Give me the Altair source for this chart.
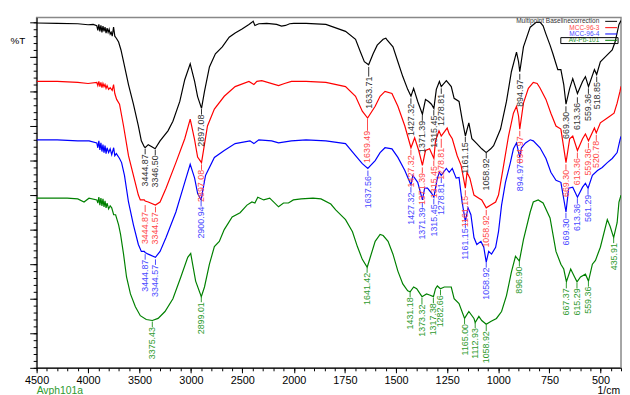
import altair as alt
import pandas as pd

FONT = "Liberation Sans"

# ---- spectra: [wavenumber (1/cm), %T] ----
BLACK = [[4500,99.8],[4300,99.7],[4100,99.6],[4000,99.3],[3950,99.4],[3915,99.0],[3905,97.7],[3895,99.4],[3885,97.4],[3875,99.1],
         [3865,97.1],[3855,98.9],[3845,97.4],[3835,98.6],[3825,96.9],[3815,98.3],[3805,97.1],[3795,98.0],[3785,96.6],[3775,97.1],
         [3765,96.0],[3752,98.6],[3740,96.0],[3725,95.4],[3703,94.3],[3680,92.0],[3655,88.6],[3607,82.0],[3559,76.3],[3511,70.0],
         [3482,65.7],[3454,64.0],[3445,63.7],[3415,64.6],[3380,64.0],[3348,63.4],[3300,65.7],[3223,68.6],[3175,71.4],[3108,77.1],
         [3060,83.4],[3007,88.0],[2964,82.9],[2935,78.5],[2897,75.1],[2868,80.0],[2820,87.1],[2762,90.9],[2695,92.9],[2628,95.7],
         [2570,96.9],[2503,98.1],[2436,99.4],[2407,100.0],[2395,100.3],[2378,99.1],[2340,99.6],[2263,99.7],[2167,99.4],[2119,98.9],
         [2080,99.1],[2040,99.6],[2000,99.7],[1940,99.7],[1843,99.4],[1747,97.4],[1698,95.1],[1674,91.4],[1655,88.6],[1634,87.7],
         [1612,90.9],[1592,93.4],[1563,95.1],[1550,95.4],[1544,94.9],[1515,92.9],[1491,88.6],[1467,84.3],[1443,80.6],[1427,78.6],
         [1414,80.9],[1394,77.1],[1371,73.4],[1356,77.7],[1341,77.1],[1327,76.3],[1315,75.1],[1303,80.6],[1288,82.9],[1279,81.4],
         [1254,83.1],[1230,81.4],[1216,78.0],[1192,77.1],[1177,72.0],[1161,67.1],[1144,70.9],[1129,66.3],[1105,64.9],[1081,63.4],
         [1059,62.3],[1037,63.4],[1023,64.3],[989,69.1],[960,77.1],[936,85.7],[911,91.4],[901,88.6],[895,85.7],[877,92.9],
         [844,98.6],[815,100.0],[795,100.0],[781,99.0],[767,96.6],[747,93.4],[733,90.9],[718,88.0],[709,86.3],[694,86.3],
         [680,82.0],[669,76.3],[651,80.9],[636,83.7],[613,79.4],[588,82.9],[574,84.3],[559,81.4],[530,86.3],[519,84.9],
         [501,88.6],[477,90.0],[443,92.0],[429,94.3],[410,99.4],[400,100.5]]

RED = [[4500,82.9],[4300,82.9],[4100,82.6],[4000,82.3],[3915,82.6],[3905,81.7],[3895,82.9],[3885,81.4],[3875,82.6],[3865,81.1],
       [3855,82.3],[3845,81.4],[3835,82.0],[3825,80.9],[3815,81.7],[3800,80.6],[3785,81.1],[3765,80.3],[3752,82.0],[3740,79.4],
       [3722,77.7],[3694,76.3],[3655,70.0],[3607,61.4],[3559,55.7],[3511,50.0],[3492,48.6],[3454,48.6],[3445,48.3],[3415,48.0],
       [3345,47.1],[3300,48.0],[3242,52.0],[3146,59.4],[3060,66.3],[3007,72.0],[2964,66.0],[2935,61.0],[2897,59.4],[2839,70.0],
       [2772,74.9],[2676,78.6],[2570,81.4],[2436,82.9],[2388,82.0],[2359,82.9],[2311,83.1],[2148,81.7],[2090,82.3],[2023,82.9],
       [1940,82.9],[1843,82.6],[1747,81.4],[1698,78.6],[1665,74.3],[1639,72.3],[1602,75.7],[1578,78.6],[1554,80.0],[1520,79.4],
       [1491,75.7],[1457,70.0],[1427,63.7],[1409,66.6],[1389,62.9],[1371,58.6],[1356,62.9],[1336,63.4],[1315,60.6],[1307,65.7],
       [1290,68.6],[1279,67.1],[1250,69.4],[1240,67.7],[1225,66.3],[1201,61.4],[1182,58.6],[1161,52.0],[1153,56.6],[1139,54.9],
       [1119,50.0],[1095,49.1],[1081,48.6],[1059,46.3],[1037,47.1],[1013,48.0],[999,50.0],[974,58.6],[950,67.1],[926,73.7],
       [911,75.7],[901,72.9],[895,69.1],[877,76.6],[853,80.9],[829,82.6],[810,82.3],[796,81.0],[767,77.7],[743,73.7],
       [718,70.0],[694,69.1],[669,59.4],[651,66.3],[636,67.1],[613,62.9],[588,66.3],[574,67.7],[559,65.7],[530,69.4],
       [521,68.0],[501,70.9],[467,72.3],[434,73.7],[419,76.6],[405,80.0],[400,81.5]]

BLUE = [[4500,66.0],[4300,66.0],[4100,65.7],[3990,65.7],[3915,65.1],[3905,63.7],[3895,65.7],[3885,63.1],[3875,65.1],[3865,62.6],
        [3855,64.6],[3845,62.3],[3835,64.3],[3825,62.0],[3815,63.7],[3800,62.3],[3785,63.4],[3770,61.7],[3751,63.7],[3740,61.4],
        [3725,62.0],[3694,60.6],[3674,59.4],[3646,55.7],[3607,48.0],[3559,41.4],[3511,35.7],[3482,33.7],[3454,33.7],[3445,33.4],
        [3415,32.9],[3345,32.0],[3300,33.7],[3242,37.7],[3146,45.1],[3060,53.7],[3007,58.9],[2964,54.9],[2935,50.5],[2901,48.6],
        [2858,55.7],[2772,60.9],[2676,62.9],[2570,64.9],[2426,65.7],[2388,64.9],[2340,66.0],[2215,65.7],[2148,65.1],[2023,65.7],
        [1940,66.0],[1843,65.7],[1747,64.9],[1698,61.4],[1665,59.1],[1638,57.7],[1602,60.0],[1578,62.3],[1554,63.7],[1520,63.4],
        [1491,60.9],[1457,57.1],[1427,52.9],[1418,55.7],[1394,53.7],[1371,48.6],[1360,52.0],[1346,52.0],[1327,50.6],[1315,49.4],
        [1298,54.9],[1288,56.6],[1279,55.7],[1254,57.7],[1240,56.6],[1225,57.7],[1206,54.9],[1192,55.1],[1177,48.0],[1161,42.3],
        [1148,46.3],[1134,44.3],[1119,37.7],[1105,35.7],[1085,36.6],[1071,34.9],[1059,30.6],[1047,33.7],[1033,32.9],[1013,34.9],
        [999,39.4],[984,47.1],[965,53.7],[941,59.4],[926,63.4],[911,65.1],[895,60.9],[887,63.7],[867,65.1],[844,66.0],
        [829,65.7],[796,63.7],[767,60.6],[743,56.6],[718,54.3],[694,53.7],[669,45.1],[656,52.0],[636,52.3],[613,49.4],
        [588,52.3],[574,53.4],[561,52.0],[540,55.7],[515,57.1],[492,58.0],[467,59.4],[443,60.6],[419,62.3],[405,66.0],[400,67.0]]

GREEN = [[4500,49.1],[4327,49.1],[4202,49.1],[4100,48.9],[4039,48.0],[3991,49.1],[3915,48.6],[3905,47.7],[3895,49.4],[3885,47.1],
         [3875,49.1],[3865,46.9],[3855,48.9],[3845,46.6],[3835,48.3],[3825,46.3],[3815,47.7],[3800,46.0],[3785,46.9],[3770,46.3],
         [3751,44.3],[3732,44.3],[3703,41.4],[3684,38.6],[3655,32.9],[3626,26.3],[3588,21.4],[3540,17.7],[3492,15.1],[3434,14.0],
         [3375,13.7],[3319,14.3],[3252,16.3],[3175,20.0],[3098,26.3],[3031,32.0],[3002,33.1],[2954,25.1],[2899,20.6],[2868,23.4],
         [2820,30.0],[2772,35.1],[2724,36.6],[2676,40.0],[2599,43.7],[2522,44.9],[2455,47.1],[2407,48.0],[2378,47.7],[2350,49.4],
         [2292,48.6],[2234,49.1],[2148,46.6],[2100,47.7],[2052,47.7],[2004,48.6],[1964,48.9],[1906,49.1],[1867,48.9],[1819,47.4],
         [1795,45.7],[1747,42.9],[1713,39.4],[1689,35.1],[1665,31.4],[1641,29.1],[1626,32.0],[1602,36.6],[1578,38.6],[1563,38.3],
         [1539,36.6],[1515,32.9],[1491,28.0],[1467,24.3],[1443,22.3],[1431,22.0],[1414,23.4],[1399,22.9],[1373,20.6],[1351,21.4],
         [1336,21.1],[1317,20.6],[1307,22.9],[1298,23.7],[1283,22.9],[1264,23.4],[1230,23.4],[1216,20.0],[1192,18.6],[1165,14.3],
         [1144,16.3],[1119,14.3],[1113,13.1],[1095,14.9],[1081,13.7],[1059,12.6],[1037,13.4],[1009,14.3],[984,16.3],[960,20.9],
         [936,27.7],[916,32.3],[897,30.9],[877,37.1],[844,45.1],[829,48.0],[805,48.6],[781,47.7],[747,43.4],[718,33.7],
         [694,30.0],[680,28.6],[667,24.9],[646,28.6],[627,26.3],[615,24.9],[598,26.3],[574,27.1],[559,25.1],[540,30.0],
         [525,31.1],[501,34.9],[467,42.9],[453,40.9],[436,37.7],[419,42.0],[410,48.0],[400,50.0]]

# ---- peak labels: [text, %T where leader starts, %T where text starts] ----
BLACK_PEAKS = [["3444.87",63.4,61.8],["3346.50",63.1,61.5],["2897.08",74.9,73.3],["1633.71",87.1,84.3],
               ["1427.32",78.0,76.4],["1371.39",73.1,71.5],["1315.45",74.6,73.0],["1278.81",80.9,79.3],
               ["1161.15",66.9,65.3],["1058.92",62.6,60.6],["894.97",85.1,83.4],["669.30",75.7,74.1],
               ["613.36",78.3,76.7],["559.36",80.9,79.3],["518.85",84.3,82.7]]
RED_PEAKS = [["3444.87",47.1,45.1],["3344.57",46.6,45.0],["2897.08",58.9,57.3],["1639.49",72.0,68.6],
             ["1427.32",63.1,61.5],["1371.39",58.0,56.4],["1315.45",60.0,58.4],["1278.81",66.3,63.7],
             ["1161.15",51.4,49.8],["1058.92",45.7,44.1],["894.97",68.6,67.0],["669.30",58.9,57.3],
             ["613.36",62.3,60.7],["559.36",65.1,63.5],["520.78",67.4,65.7]]
BLUE_PEAKS = [["3444.87",32.9,31.3],["3344.57",31.4,29.8],["2900.94",48.3,46.7],["1637.56",57.1,55.5],
              ["1427.32",52.3,50.7],["1371.39",48.0,46.4],["1315.45",48.9,47.3],["1278.81",55.1,53.5],
              ["1161.15",42.0,40.4],["1058.92",30.6,29.0],["894.97",60.6,59.0],["669.30",44.9,43.3],
              ["613.36",49.1,47.5],["561.29",51.7,50.1]]
GREEN_PEAKS = [["3375.43",13.4,11.8],["2899.01",20.6,19.0],["1641.42",29.1,27.5],["1431.18",22.0,20.4],
               ["1373.32",20.3,18.3],["1317.38",20.3,18.7],["1282.66",22.6,21.0],["1165.00",14.3,12.7],
               ["1112.93",13.1,11.5],["1058.92",12.6,10.6],["896.90",30.9,29.3],["667.37",24.6,23.0],
               ["615.29",24.6,23.0],["559.36",25.1,23.5],["435.91",37.7,36.1]]

NAMES = ["Multipoint Baselinecorrection", "MCC-96-3", "MCC-96-4", "Av-Pb-101"]
LINE_COLORS = ["#000000", "#ff0000", "#0000ff", "#008000"]
TEXT_COLORS = ["#333333", "#ff4a4a", "#4a4aff", "#2e9a2e"]
SERIES = [BLACK, RED, BLUE, GREEN]
PEAKS = [BLACK_PEAKS, RED_PEAKS, BLUE_PEAKS, GREEN_PEAKS]

X_MAJOR = [4500, 4000, 3500, 3000, 2500, 2000, 1750, 1500, 1250, 1000, 750, 500]
X_MINOR = list(range(4500, 2000, -100)) + list(range(2000, 399, -50))
Y_MAJOR = list(range(0, 101, 10))
Y_MINOR = list(range(0, 101, 2))

W, H = 592, 355
SPLIT = 260.5

curve_rows, peak_rows = [], []
for name, lc, tc, pts, pk in zip(NAMES, LINE_COLORS, TEXT_COLORS, SERIES, PEAKS):
    for wn, t in pts:
        curve_rows.append({"series": name, "lc": lc, "wn": wn, "T": t})
    for lab, top, tt in pk:
        peak_rows.append({"series": name, "tc": tc, "wn": float(lab), "label": lab, "top": top, "tt": tt})
curves = pd.DataFrame(curve_rows)
peaks = pd.DataFrame(peak_rows)

xscale = alt.Scale(domain=[4500, 2000, 400], range=[0, SPLIT, W], nice=False, zero=False)
yscale = alt.Scale(domain=[0, 101.43], nice=False, zero=False)

lines = alt.Chart(curves).mark_line(strokeWidth=1.2, clip=True).encode(
    x=alt.X("wn:Q", scale=xscale,
            axis=alt.Axis(values=X_MAJOR, format="d", orient="bottom", title=None, grid=False,
                          tickSize=5, labelFontSize=11, labelPadding=2, labelColor="#000",
                          labelFont=FONT, domainColor="#000", tickColor="#000", labelFlush=False)),
    y=alt.Y("T:Q", scale=yscale,
            axis=alt.Axis(values=Y_MAJOR, labels=False, orient="left", grid=False, tickSize=7,
                          domainColor="#000", tickColor="#000", title="%T", titleAngle=0,
                          titleX=-27, titleY=23, titleAlign="left", titleBaseline="middle",
                          titleFontSize=10, titleFontWeight="normal", titleFont=FONT, titleColor="#000")),
    color=alt.Color("lc:N", scale=None),
    detail="series:N",
)

leaders = alt.Chart(peaks).mark_rule(strokeWidth=1).encode(
    x=alt.X("wn:Q", scale=xscale,
            axis=alt.Axis(values=X_MINOR, labels=False, orient="bottom", grid=False, tickSize=3,
                          domain=False, tickColor="#000", title=None)),
    y=alt.Y("top:Q", scale=yscale,
            axis=alt.Axis(values=Y_MINOR, labels=False, orient="left", grid=False, tickSize=3.5,
                          domain=False, tickColor="#000", title=None)),
    y2="tt:Q",
    color=alt.Color("tc:N", scale=None),
)

peak_text = alt.Chart(peaks).mark_text(angle=270, align="right", baseline="middle",
                                       fontSize=9, font=FONT).encode(
    x=alt.X("wn:Q", scale=xscale, axis=None),
    y=alt.Y("tt:Q", scale=yscale, axis=None),
    text="label:N",
    color=alt.Color("tc:N", scale=None),
)

legend_df = pd.DataFrame({"name": NAMES, "lc": LINE_COLORS, "tc": TEXT_COLORS,
                          "row": [0, 1, 2, 3]})
leg_layers = []
for i, (nm, lc, tc) in enumerate(zip(NAMES, LINE_COLORS, TEXT_COLORS)):
    sub = legend_df[legend_df["row"] == i]
    yy = 4 + i * 6.4
    leg_layers.append(alt.Chart(sub).mark_text(align="right", baseline="middle", fontSize=6.6,
                                               font=FONT, color=tc).encode(
        x=alt.value(W - 22), y=alt.value(yy), text="name:N"))
    leg_layers.append(alt.Chart(sub).mark_rule(strokeWidth=1, color=lc).encode(
        x=alt.value(W - 16), x2=alt.value(W - 4), y=alt.value(yy)))
box = alt.Chart(legend_df[legend_df["row"] == 3]).mark_rect(fill=None, stroke="#000",
                                                           strokeWidth=1).encode(
    x=alt.value(W - 61), x2=alt.value(W - 3), y=alt.value(20.5), y2=alt.value(26.5))

foot = pd.DataFrame({"left": ["Avph101a"], "right": ["1/cm"]})
foot_left = alt.Chart(foot).mark_text(align="left", baseline="middle", fontSize=10.5,
                                      font=FONT, color="#2e9a2e").encode(
    x=alt.value(0), y=alt.value(H + 23.5), text="left:N")
foot_right = alt.Chart(foot).mark_text(align="right", baseline="middle", fontSize=10.5,
                                       font=FONT, color="#000").encode(
    x=alt.value(W - 1), y=alt.value(H + 23.5), text="right:N")

chart = alt.layer(lines, leaders, peak_text, *leg_layers, box, foot_left, foot_right).resolve_axis(
    x="independent", y="independent"
).properties(
    width=W, height=H,
    autosize=alt.AutoSizeParams(type="none"),
    padding={"left": 29, "top": 7, "right": 1, "bottom": 25},
    background="#ffffff",
).configure_view(stroke="#888888", strokeWidth=1.5)

chart.save("out.html", embed_options={"renderer": "svg", "actions": False})
